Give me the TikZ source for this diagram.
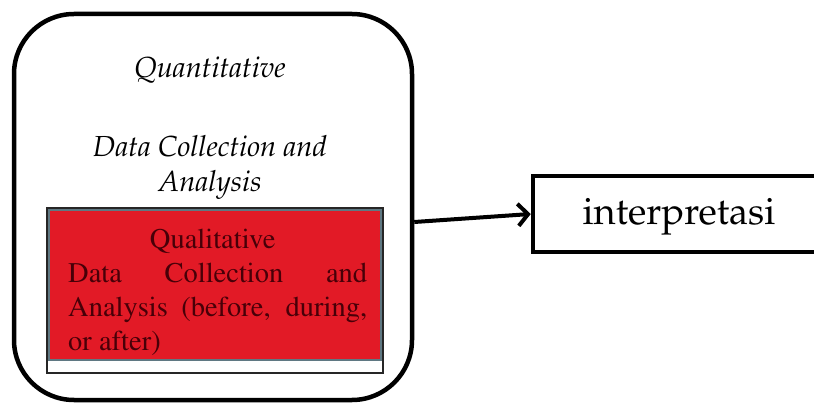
\documentclass[tikz,border=0pt]{standalone}
\usepackage[T1]{fontenc}
\usetikzlibrary{arrows.meta}
\definecolor{qualred}{RGB}{226,26,38}
\definecolor{qualtext}{RGB}{72,0,8}
\definecolor{qualedge}{RGB}{95,120,130}
\newcommand{\pala}{\fontfamily{ppl}\selectfont}
\newcommand{\tms}{\fontfamily{ptm}\selectfont}
\tikzset{
  container/.style={draw=black, line width=4.5pt, rounded corners=60pt, minimum width=398pt, minimum height=386pt, inner sep=0pt},
  whitebox/.style={draw=black!85, line width=1.2pt, fill=white, minimum width=336pt, minimum height=165pt, inner sep=0pt},
  redbox/.style={draw=qualedge, line width=1.2pt, fill=qualred, minimum width=332pt, minimum height=150pt, inner sep=0pt},
  outbox/.style={draw=black, line width=4.5pt, fill=white, minimum width=300pt, minimum height=76pt, inner sep=0pt},
  conn/.style={line width=4pt, -{Straight Barb[length=10pt,width=22pt,line width=4pt]}},
}
\begin{document}
\begin{tikzpicture}[x=1pt,y=-1pt]
\clip (0,0) rectangle (814,403);
\fill[white] (0,0) rectangle (814,403);
\node[container] (quant) at (213,207) {};
\node[align=center, anchor=base, inner sep=0pt, font=\pala\itshape\fontsize{29}{35}\selectfont] (quanttext) at (210,192)
  {Quantitative\\[44pt]Data Collection and\\Analysis};
\node[whitebox] (qualouter) at (215,290.5) {};
\node[redbox] (qual) at (215,285) {};
\node[align=left, anchor=base west, inner sep=0pt, text=qualtext, font=\tms\fontsize{28.5}{34}\selectfont] (qualtext) at (68,350)
  {\makebox[289pt]{Qualitative}\\\makebox[299pt][s]{Data Collection and}\\\makebox[299pt][s]{Analysis (before, during,}\\or after)};
\node[outbox] (interp) at (683,214) {};
\node[inner sep=0pt, anchor=base, font=\pala\fontsize{38}{44}\selectfont] (interptext) at (679,225) {interpretasi};
\draw[conn] ([yshift=-15pt]quant.east) -- (interp.west);
\end{tikzpicture}
\end{document}
